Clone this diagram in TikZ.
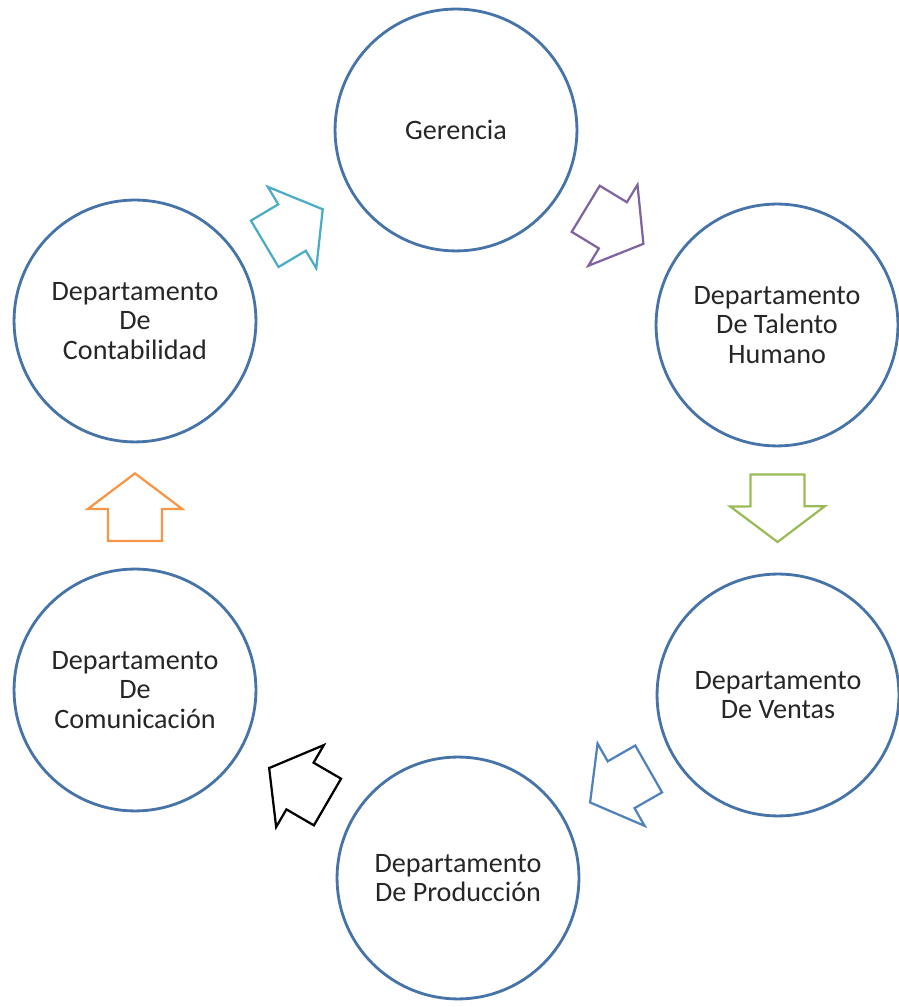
\documentclass[tikz,border=0pt]{standalone}
\usepackage{fontspec}
\setmainfont{Carlito}
\usetikzlibrary{shapes.arrows}
\definecolor{circblue}{HTML}{4673A8}
\definecolor{arrcyan}{HTML}{4BACC6}
\definecolor{arrpurple}{HTML}{8064A2}
\definecolor{arrgreen}{HTML}{9BBB59}
\definecolor{arrblue}{HTML}{4F81BD}
\definecolor{arrorange}{HTML}{F79646}

\tikzset{
  dept/.style={circle, draw=circblue, line width=2pt, minimum size=172pt, inner sep=0pt,
    align=center, text=black!85, font=\fontsize{20}{21}\selectfont},
  flecha/.style={single arrow, draw=#1, line width=1.6pt, minimum height=48pt,
    inner xsep=0pt, inner ysep=18.4pt, single arrow head extend=14.5pt,
    single arrow tip angle=106, sloped, allow upside down, pos=0.405}
}

\begin{document}
\begin{tikzpicture}[x=0.025cm,y=0.025cm]
		\useasboundingbox (0,0) rectangle (899,1007);
		\node[dept] (ger) at (456,877) {Gerencia};
		\node[dept] (tal) at (777,682) {Departamento\\De Talento\\Humano};
		\node[dept] (ven) at (778,312) {Departamento\\De Ventas};
		\node[dept] (pro) at (458,129) {Departamento\\De Producción};
		\node[dept] (com) at (135,317) {Departamento\\De\\Comunicación};
		\node[dept] (cont) at (135,686) {Departamento\\De\\Contabilidad};
		% flechas entre departamentos
		\path (cont) -- node[flecha=arrcyan] (f1) {} (ger);
		\path (ger) -- node[flecha=arrpurple] (f2) {} (tal);
		\path (tal) -- node[flecha=arrgreen] (f3) {} (ven);
		\path (ven) -- node[flecha=arrblue] (f4) {} (pro);
		\path (pro) -- node[flecha=black] (f5) {} (com);
		\path (com) -- node[flecha=arrorange] (f6) {} (cont);
	\end{tikzpicture}
\end{document}
